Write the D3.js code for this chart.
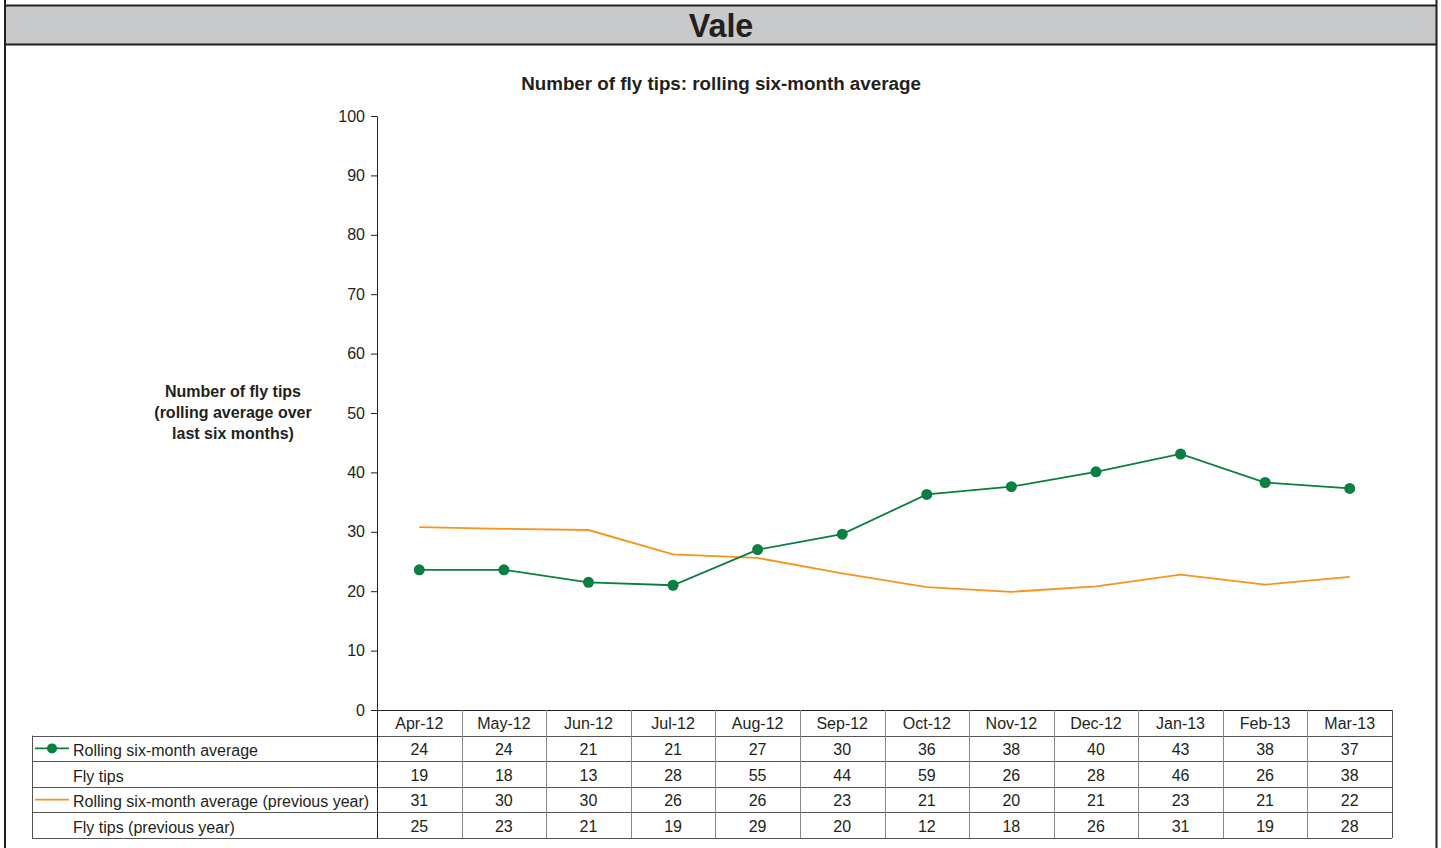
<!DOCTYPE html>
<html>
<head>
<meta charset="utf-8">
<script src="https://cdn.jsdelivr.net/npm/d3@7"></script>
<style>
  body { margin: 0; background: #fff; }
  svg text { font-family: "Liberation Sans", Arial, sans-serif; fill: #231f20; }
</style>
</head>
<body>
<svg id="chart" width="1441" height="848"></svg>
<script>
// months along the x axis
var months = ["Apr-12", "May-12", "Jun-12", "Jul-12", "Aug-12", "Sep-12", "Oct-12", "Nov-12", "Dec-12", "Jan-13", "Feb-13", "Mar-13"]

// plotted (unrounded) values
var rollingAvg = [23.6, 23.6, 21.5, 21.0, 27.0, 29.6, 36.3, 37.6, 40.1, 43.1, 38.3, 37.3]
var rollingAvgPrev = [30.8, 30.5, 30.3, 26.2, 25.6, 23.0, 20.7, 19.9, 20.8, 22.8, 21.1, 22.4]

// table rows as printed
var rowLabels = ["Rolling six-month average", "Fly tips", "Rolling six-month average (previous year)", "Fly tips (previous year)"]
var tblRolling = [24, 24, 21, 21, 27, 30, 36, 38, 40, 43, 38, 37]
var tblFlyTips = [19, 18, 13, 28, 55, 44, 59, 26, 28, 46, 26, 38]
var tblRollingPrev = [31, 30, 30, 26, 26, 23, 21, 20, 21, 23, 21, 22]
var tblFlyTipsPrev = [25, 23, 21, 19, 29, 20, 12, 18, 26, 31, 19, 28]

var yTicks = [0, 10, 20, 30, 40, 50, 60, 70, 80, 90, 100]

var green = "#0a7f3f"
var orange = "#f7941d"

var svg = d3.select("#chart")

//dimensions
var dims = {
    left: 377,
    right: 1392,
    top: 116,
    bottom: 710,
    tableLeft: 32,
    rowH: 25.6
}
var fontSize = "16px"

//outer frame + header band
svg.append("rect")
   .attr("x", 5).attr("y", 6)
   .attr("width", 1431).attr("height", 38)
   .attr("fill", "#c8c9cb")
svg.append("line").attr("x1", 5).attr("x2", 1437).attr("y1", 5.5).attr("y2", 5.5)
   .attr("stroke", "#231f20").attr("stroke-width", 2)
svg.append("line").attr("x1", 5).attr("x2", 1437).attr("y1", 44.5).attr("y2", 44.5)
   .attr("stroke", "#231f20").attr("stroke-width", 2)
svg.append("line").attr("x1", 5).attr("x2", 5).attr("y1", 0).attr("y2", 848)
   .attr("stroke", "#231f20").attr("stroke-width", 2)
svg.append("line").attr("x1", 1436.5).attr("x2", 1436.5).attr("y1", 0).attr("y2", 848)
   .attr("stroke", "#231f20").attr("stroke-width", 2)

svg.append("text")
   .attr("transform", "translate(721,37) scale(0.95,1)")
   .attr("text-anchor", "middle")
   .style("font-weight", "bold")
   .style("font-size", "34px")
   .text("Vale")

//chart title
svg.append("text")
   .attr("x", 721).attr("y", 90)
   .attr("text-anchor", "middle")
   .style("font-weight", "bold")
   .style("font-size", "18.8px")
   .text("Number of fly tips: rolling six-month average")

//y axis title
var yTitle = svg.append("text")
   .attr("text-anchor", "middle")
   .style("font-weight", "bold")
   .style("font-size", fontSize)
;["Number of fly tips", "(rolling average over", "last six months)"].forEach((t, i) => {
    yTitle.append("tspan").attr("x", 233).attr("y", 397 + i * 21).text(t)
})

//scales
var x = d3.scaleBand()
          .domain(months)
          .range([dims.left, dims.right])
var y = d3.scaleLinear()
          .domain([0, 100])
          .range([dims.bottom, dims.top])

var xc = d => x(d) + x.bandwidth() / 2

//y axis
var yAxis = svg.append("g")
   .attr("transform", `translate(${dims.left},0)`)
   .call(d3.axisLeft(y).tickValues(yTicks).tickSize(6).tickPadding(6).tickSizeOuter(0))
yAxis.selectAll("text").style("font-size", fontSize).attr("fill", "#231f20")
yAxis.selectAll("line,path").attr("stroke", "#231f20")

//lines
var line = d3.line()
             .x((d, i) => xc(months[i]))
             .y(d => y(d))

svg.append("path")
   .datum(rollingAvgPrev)
   .attr("fill", "none")
   .attr("stroke", orange)
   .attr("stroke-width", 1.8)
   .attr("d", line)

svg.append("path")
   .datum(rollingAvg)
   .attr("fill", "none")
   .attr("stroke", green)
   .attr("stroke-width", 1.8)
   .attr("d", line)

svg.append("g")
   .selectAll("circle")
   .data(rollingAvg)
   .enter()
   .append("circle")
   .attr("cx", (d, i) => xc(months[i]))
   .attr("cy", d => y(d))
   .attr("r", 5.5)
   .attr("fill", green)

//data table
var table = svg.append("g")
var tableTop = dims.bottom
var rows = [tblRolling, tblFlyTips, tblRollingPrev, tblFlyTipsPrev]
var rowY = i => tableTop + dims.rowH * (i + 1)
var tableBottom = rowY(rows.length)

//header row: month labels
table.selectAll(".month")
     .data(months)
     .enter()
     .append("text")
     .attr("class", "month")
     .attr("x", d => xc(d))
     .attr("y", tableTop + 18.5)
     .attr("text-anchor", "middle")
     .style("font-size", fontSize)
     .text(d => d)

//horizontal rules
table.append("line")
     .attr("x1", dims.left).attr("x2", dims.right)
     .attr("y1", tableTop + 0.5).attr("y2", tableTop + 0.5)
     .attr("stroke", "#231f20")
d3.range(rows.length + 1).forEach(i => {
    table.append("line")
         .attr("x1", dims.tableLeft).attr("x2", dims.right)
         .attr("y1", Math.round(rowY(i)) + 0.5).attr("y2", Math.round(rowY(i)) + 0.5)
         .attr("stroke", "#555")
})

//vertical rules
table.append("line")
     .attr("x1", dims.tableLeft + 0.5).attr("x2", dims.tableLeft + 0.5)
     .attr("y1", rowY(0)).attr("y2", tableBottom)
     .attr("stroke", "#555")
table.append("line")
     .attr("x1", dims.left + 0.5).attr("x2", dims.left + 0.5)
     .attr("y1", tableTop).attr("y2", tableBottom)
     .attr("stroke", "#231f20")
months.slice(1).forEach(m => {
    table.append("line")
         .attr("x1", Math.round(x(m)) + 0.5).attr("x2", Math.round(x(m)) + 0.5)
         .attr("y1", tableTop).attr("y2", tableBottom)
         .attr("stroke", "#888")
})
table.append("line")
     .attr("x1", dims.right + 0.5).attr("x2", dims.right + 0.5)
     .attr("y1", tableTop).attr("y2", tableBottom)
     .attr("stroke", "#555")

//row labels + legend keys
rowLabels.forEach((label, i) => {
    var cy = rowY(i) + dims.rowH / 2
    table.append("text")
         .attr("x", 73).attr("y", cy + 7.5)
         .style("font-size", fontSize)
         .text(label)
    if (i === 0) {
        table.append("line").attr("x1", 35).attr("x2", 69).attr("y1", cy).attr("y2", cy)
             .attr("stroke", green).attr("stroke-width", 1.8)
        table.append("circle").attr("cx", 52).attr("cy", cy).attr("r", 5).attr("fill", green)
    }
    if (i === 2) {
        table.append("line").attr("x1", 35).attr("x2", 69).attr("y1", cy).attr("y2", cy)
             .attr("stroke", orange).attr("stroke-width", 1.8)
    }
    table.selectAll(".cell" + i)
         .data(rows[i])
         .enter()
         .append("text")
         .attr("x", (d, j) => xc(months[j]))
         .attr("y", cy + 6.5)
         .attr("text-anchor", "middle")
         .style("font-size", fontSize)
         .text(d => d)
})
</script>
</body>
</html>
